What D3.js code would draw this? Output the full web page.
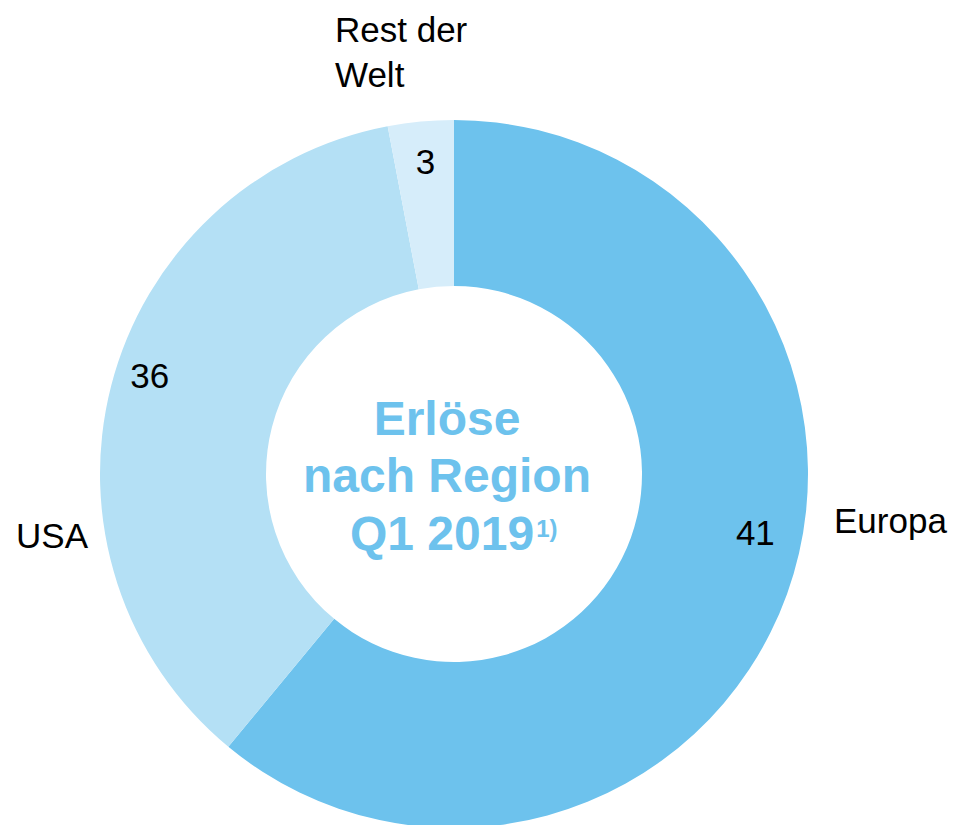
<!DOCTYPE html>
<html>
<head>
<meta charset="utf-8">
<script src="https://cdn.jsdelivr.net/npm/d3@7"></script>
<style>
  html, body { margin: 0; padding: 0; background: #fff; }
  svg { display: block; font-family: Arial, "Liberation Sans", sans-serif; }
</style>
</head>
<body>
<svg id="chart" width="957" height="825"></svg>
<script>
// Data (share of revenue, slice size as drawn; printed labels as in the source)
const regions = ['Europa', 'USA', 'Rest der Welt'];
const shares = [61, 36, 3];
const valueLabels = ['41', '36', '3'];
const colors = ['#6dc2ed', '#b4e0f5', '#d6edfa'];
const titleLines = ['Erlöse', 'nach Region', 'Q1 2019'];

const svg = d3.select('#chart');
const cx = 454, cy = 474;
const outerR = 354, innerR = 188;

const g = svg.append('g').attr('transform', `translate(${cx},${cy})`);

const pie = d3.pie().sort(null).value(d => d.v);
const arcs = pie(regions.map((r, i) => ({ name: r, v: shares[i], label: valueLabels[i], i })));

const arc = d3.arc().innerRadius(innerR).outerRadius(outerR);

g.selectAll('path.slice')
  .data(arcs)
  .enter()
  .append('path')
  .attr('class', 'slice')
  .attr('d', arc)
  .style('fill', d => colors[d.data.i]);

// value labels inside the ring (angle in degrees from top, radius)
const valuePos = [[101, 307], [288, 320], [354.8, 314]];
g.selectAll('text.value')
  .data(arcs)
  .enter()
  .append('text')
  .attr('class', 'value')
  .attr('x', d => valuePos[d.data.i][1] * Math.sin(valuePos[d.data.i][0] * Math.PI / 180))
  .attr('y', d => -valuePos[d.data.i][1] * Math.cos(valuePos[d.data.i][0] * Math.PI / 180))
  .attr('dy', '0.36em')
  .attr('text-anchor', 'middle')
  .style('font-size', '35px')
  .style('fill', '#000')
  .text(d => d.data.label);

// category labels outside the ring
svg.append('text').attr('x', 834).attr('y', 533)
  .style('font-size', '35px').text(regions[0]);
svg.append('text').attr('x', 88).attr('y', 548).attr('text-anchor', 'end')
  .style('font-size', '35px').text(regions[1]);
const rest = svg.append('text').attr('x', 335).attr('y', 42).style('font-size', '35px');
rest.append('tspan').attr('x', 335).text('Rest der');
rest.append('tspan').attr('x', 335).attr('dy', 45).text('Welt');

// centre title
const title = svg.append('g')
  .style('font-size', '48px')
  .style('font-weight', 'bold')
  .style('fill', '#6dc2ed');
title.append('text').attr('x', 447).attr('y', 435).attr('text-anchor', 'middle').text(titleLines[0]);
title.append('text').attr('x', 447).attr('y', 492).attr('text-anchor', 'middle').text(titleLines[1]);
const t3 = title.append('text').attr('x', 350).attr('y', 550);
t3.append('tspan').text(titleLines[2]);
t3.append('tspan').attr('dy', -13).attr('dx', 2).style('font-size', '24px').text('1)');
</script>
</body>
</html>
